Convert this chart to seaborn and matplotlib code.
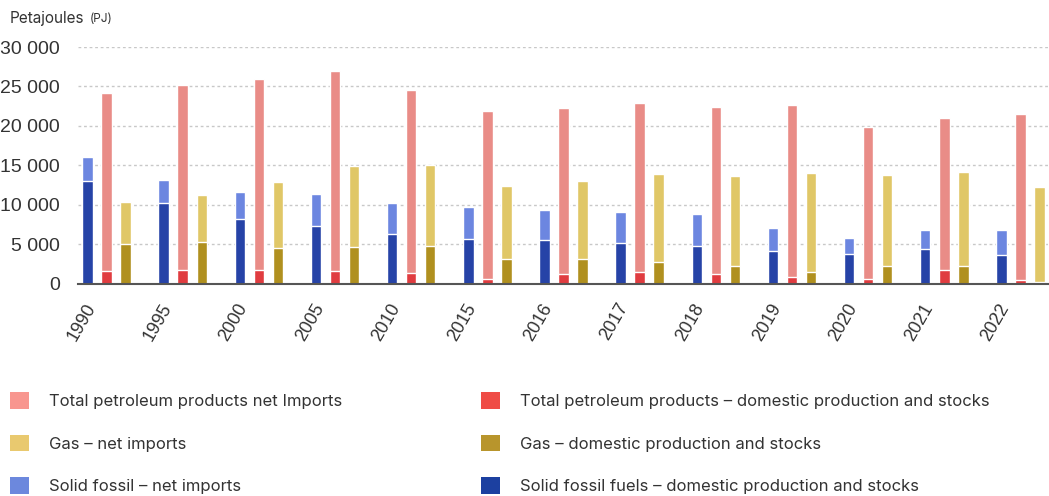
import matplotlib
matplotlib.use("Agg")
import matplotlib.pyplot as plt
from matplotlib.patches import Patch
from matplotlib.ticker import FixedLocator, FuncFormatter
import matplotlib.transforms as mtransforms
import numpy as np
import pandas as pd
import seaborn as sns

# Energy supply by fuel (PJ)
years = ["1990", "1995", "2000", "2005", "2010", "2015", "2016",
         "2017", "2018", "2019", "2020", "2021", "2022"]

solid_domestic = [13000, 10200, 8200, 7300, 6300, 5700, 5500, 5100, 4800, 4100, 3800, 4400, 3600]
solid_imports = [3000, 2900, 3400, 4100, 3900, 4000, 3800, 4000, 4000, 3000, 2000, 2400, 3200]

petroleum_domestic = [1600, 1700, 1700, 1600, 1400, 600, 1200, 1500, 1200, 800, 600, 1700, 500]
petroleum_imports = [22600, 23500, 24200, 25400, 23100, 21300, 21100, 21400, 21200, 21900, 19300, 19300, 21000]

gas_domestic = [5000, 5300, 4500, 4600, 4800, 3100, 3100, 2700, 2300, 1500, 2300, 2300, 250]
gas_imports = [5400, 6000, 8400, 10300, 10300, 9300, 9900, 11200, 11300, 12500, 11500, 11900, 11950]

fuels = ["solid", "petroleum", "gas"]

import_colors = {"solid": "#6C86E0", "petroleum": "#E98C87", "gas": "#E0C767"}
domestic_colors = {"solid": "#2643A7", "petroleum": "#E03C40", "gas": "#B0901F"}

legend_items = [
    ("Total petroleum products net Imports", "#F8968F"),
    ("Gas \u2013 net imports", "#E9C96F"),
    ("Solid fossil \u2013 net imports", "#6C88DD"),
    ("Total petroleum products \u2013 domestic production and stocks", "#EF4C46"),
    ("Gas \u2013 domestic production and stocks", "#B8952C"),
    ("Solid fossil fuels \u2013 domestic production and stocks", "#1C40A0"),
]

# Each year occupies four slots: solid, petroleum, gas and a spacer
slots_per_year = 4
n_slots = slots_per_year * (len(years) - 1) + 3
slot_names = [f"s{i}" for i in range(n_slots)]

series = {
    "solid": (solid_domestic, solid_imports),
    "petroleum": (petroleum_domestic, petroleum_imports),
    "gas": (gas_domestic, gas_imports),
}
rows = []
for yi, year in enumerate(years):
    for fi, fuel in enumerate(fuels):
        dom, imp = series[fuel]
        rows.append({
            "slot": slot_names[yi * slots_per_year + fi],
            "year": year,
            "fuel": fuel,
            "domestic": dom[yi],
            "total": dom[yi] + imp[yi],
        })
df = pd.DataFrame(rows)

sns.set_theme(style="white")
plt.rcParams["font.family"] = ["Liberation Sans", "DejaVu Sans"]

fig = plt.figure(figsize=(10.49, 4.96), dpi=100)
ax = fig.add_axes([78 / 1049, 1 - 283.7 / 496, 1 - 78 / 1049, (283.7 - 47) / 496])

bar_kw = dict(x="slot", hue="fuel", order=slot_names, hue_order=fuels, dodge=False,
              width=0.55, legend=False, edgecolor="#FFFFFF", linewidth=1.0,
              errorbar=None, ax=ax, saturation=1)
# Full stack (imports on top) drawn first, domestic share drawn over its base
sns.barplot(data=df, y="total", palette=import_colors, **bar_kw)
sns.barplot(data=df, y="domestic", palette=domestic_colors, **bar_kw)

ax.set_xlim(-0.5, n_slots - 0.5)
ax.set_ylim(0, 30000)
ax.set_xlabel("")
ax.set_ylabel("")

# y axis: dashed grid, spaced thousands
ax.yaxis.set_major_locator(FixedLocator(np.arange(0, 30001, 5000)))
ax.yaxis.set_major_formatter(FuncFormatter(lambda v, p: f"{int(v):,}".replace(",", " ")))
ax.grid(axis="y", color="#C8C8C8", linestyle=(0, (2, 2)), linewidth=1.0)
ax.set_axisbelow(True)
ax.tick_params(axis="y", length=0, pad=13, labelsize=14, labelcolor="#333333")

# x axis: tick marks at slot boundaries, year labels under the first bar of each group
label_pos = [yi * slots_per_year for yi in range(len(years))]
ax.xaxis.set_major_locator(FixedLocator(label_pos))
ax.set_xticklabels(years)
ax.xaxis.set_minor_locator(FixedLocator(np.arange(-0.5, n_slots, 1.0)))
ax.tick_params(axis="x", which="major", length=0, pad=15, labelsize=13, labelcolor="#333333")
ax.tick_params(axis="x", which="minor", length=5, width=1.2, color="#444444", direction="out")
offset = mtransforms.ScaledTranslation(4 / 100, 0, fig.dpi_scale_trans)
for lab in ax.get_xticklabels():
    lab.set_rotation(60)
    lab.set_rotation_mode("anchor")
    lab.set_ha("right")
    lab.set_va("center")
    lab.set_transform(lab.get_transform() + offset)

for side in ["left", "right", "top"]:
    ax.spines[side].set_visible(False)
ax.spines["bottom"].set_color("#555555")
ax.spines["bottom"].set_linewidth(1.5)

# Unit caption
t = fig.text(10 / 1049, 1 - 18 / 496, "Petajoules", fontsize=11, family="Inter",
             color="#333333", va="center")
ax.annotate("(PJ)", xy=(1, 0), xycoords=t, xytext=(4, 0), textcoords="offset points",
            fontsize=8.5, family="Inter", color="#333333", va="bottom", annotation_clip=False)

# Legend: two columns of three entries
legend_kw = dict(frameon=False, prop={"family": "Inter", "size": 12},
                 handlelength=1.15, handleheight=1.15, handletextpad=1.2,
                 labelspacing=1.55, borderaxespad=0, borderpad=0, labelcolor="#333333")
h1 = [Patch(facecolor=c, edgecolor="none") for _, c in legend_items[:3]]
h2 = [Patch(facecolor=c, edgecolor="none") for _, c in legend_items[3:]]
fig.legend(h1, [l for l, _ in legend_items[:3]], loc="upper left",
           bbox_to_anchor=(10 / 1049, 1 - 392 / 496), **legend_kw)
fig.legend(h2, [l for l, _ in legend_items[3:]], loc="upper left",
           bbox_to_anchor=(481 / 1049, 1 - 392 / 496), **legend_kw)

fig.savefig("out.png", dpi=100)
